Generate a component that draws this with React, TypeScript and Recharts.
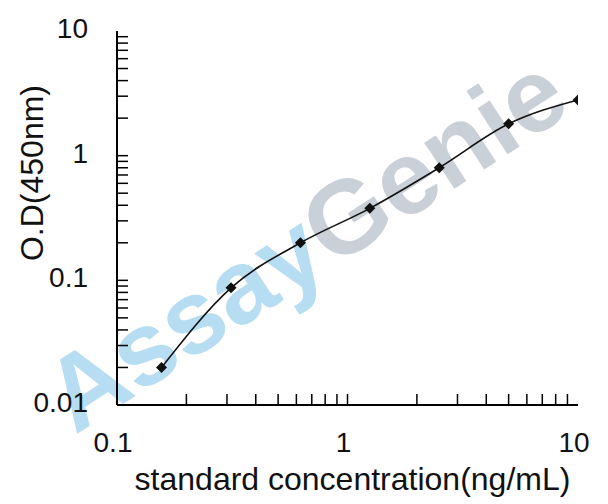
import { Label, Line, LineChart, XAxis, YAxis } from "recharts";

// standard curve readings
const concentrations = [0.156, 0.3125, 0.625, 1.25, 2.5, 5, 10];
const odValues = [0.02, 0.087, 0.2, 0.378, 0.8, 1.8, 2.8];

// log axes: labelled decades plus 2..9 minor ticks
const xDecades = [0.1, 1, 10];
const yDecades = [0.01, 0.1, 1, 10];
const minorSteps = [1, 2, 3, 4, 5, 6, 7, 8, 9];

const FONT = "'Liberation Sans', Arial, sans-serif";

function logTicks(decades: number[]) {
  const out: number[] = [];
  decades.forEach((d, i) => {
    if (i === decades.length - 1) {
      out.push(d);
      return;
    }
    minorSteps.forEach((m) => out.push(+(d * m).toPrecision(6)));
  });
  return out;
}

const xTicks = logTicks(xDecades);
const yTicks = logTicks(yDecades);

const data = concentrations.map((x, i) => ({ x, y: odValues[i] }));

function XTick(props: any) {
  const { x, y, payload } = props;
  const v = payload.value;
  const isEnd = v === xDecades[0] || v === xDecades[xDecades.length - 1];
  return (
    <g>
      {!isEnd && <line x1={x} x2={x} y1={y} y2={y - 11} stroke="#000" strokeWidth={1.5} />}
      {xDecades.includes(v) && (
        <text x={x - 4} y={y + 47} textAnchor="middle" fontSize={28} fontFamily={FONT} fill="#111">
          {String(v)}
        </text>
      )}
    </g>
  );
}

function YTick(props: any) {
  const { x, y, payload } = props;
  const v = payload.value;
  const isEnd = v === yDecades[0] || v === yDecades[yDecades.length - 1];
  return (
    <g>
      {!isEnd && <line x1={x} x2={x + 11} y1={y} y2={y} stroke="#000" strokeWidth={1.5} />}
      {yDecades.includes(v) && (
        <text x={x - 29} y={y + 7} textAnchor="end" fontSize={28} fontFamily={FONT} fill="#111">
          {String(v)}
        </text>
      )}
    </g>
  );
}

function Diamond(props: any) {
  const { cx, cy } = props;
  const r = 5.5;
  return (
    <polygon
      points={`${cx},${cy - r} ${cx + r},${cy} ${cx},${cy + r} ${cx - r},${cy}`}
      fill="#111"
    />
  );
}

function Watermark() {
  return (
    <svg
      width={600}
      height={496}
      style={{ position: "absolute", left: 0, top: 0 }}
    >
      <text
        x={297}
        y={235}
        transform="rotate(-33 297 235)"
        textAnchor="middle"
        dominantBaseline="central"
        fontSize={104}
        fontWeight={700}
        fontFamily={FONT}
      >
        <tspan fill="#b6ddf1">Assay</tspan>
        <tspan fill="#c9d0d7">Genie</tspan>
      </text>
    </svg>
  );
}

export default function App() {
  return (
    <div style={{ position: "relative", width: 600, height: 496, fontFamily: FONT }}>
      <Watermark />
      <LineChart width={600} height={496} data={data} margin={{ top: 23, right: 30, bottom: 0, left: 0 }}>
        <XAxis
          dataKey="x"
          type="number"
          scale="log"
          domain={[0.1, 10]}
          ticks={xTicks}
          interval={0}
          allowDataOverflow
          height={99}
          tickSize={0}
          tickMargin={0}
          tickLine={false}
          tick={<XTick />}
          axisLine={{ stroke: "#000", strokeWidth: 2 }}
        >
          <Label
            content={(p: any) => {
              const vb = p.viewBox;
              return (
                <text x={vb.x + vb.width / 2 + 5} y={vb.y + 85} textAnchor="middle" fontSize={32} fontFamily={FONT} fill="#111">
                  standard concentration(ng/mL)
                </text>
              );
            }}
          />
        </XAxis>
        <YAxis
          type="number"
          scale="log"
          domain={[0.01, 10]}
          ticks={yTicks}
          interval={0}
          allowDataOverflow
          width={109}
          tickSize={0}
          tickMargin={0}
          tickLine={false}
          tick={<YTick />}
          axisLine={{ stroke: "#000", strokeWidth: 2 }}
        >
          <Label
            content={() => (
              <text x={35} y={165} transform="rotate(-90 35 165)" textAnchor="middle" fontSize={32} fontFamily={FONT} fill="#111">
                O.D(450nm)
              </text>
            )}
          />
        </YAxis>
        <Line
          type="monotone"
          dataKey="y"
          stroke="#111"
          strokeWidth={1.6}
          dot={<Diamond />}
          activeDot={false}
          isAnimationActive={false}
        />
      </LineChart>
    </div>
  );
}
